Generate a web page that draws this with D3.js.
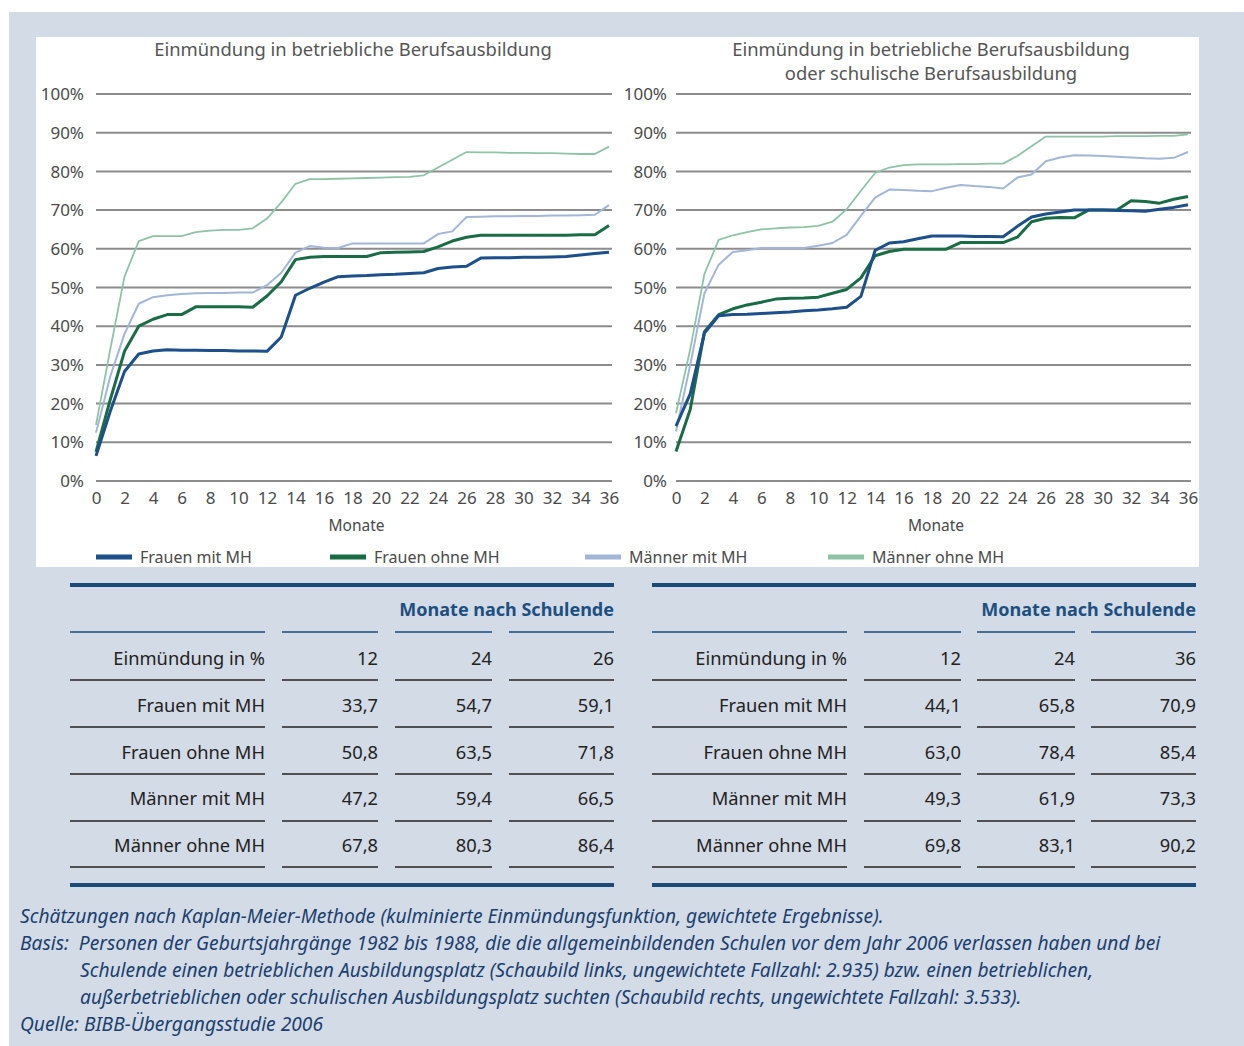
<!DOCTYPE html>
<html><head><meta charset="utf-8">
<script src="https://cdn.jsdelivr.net/npm/d3@7"></script>
<style>
html,body{margin:0;padding:0;background:#fff;}
svg{display:block;}
</style></head>
<body>
<svg id="c" width="1244" height="1046"></svg>
<script>
// ---------- DATA ----------
const months = d3.range(0, 37);
const seriesNames = ["Frauen mit MH", "Frauen ohne MH", "Männer mit MH", "Männer ohne MH"];
const seriesColors = ["#1d4f8a", "#1a6c47", "#a3b6d7", "#8ec3a6"];
const seriesWidths = [3, 3, 2, 1.8];

// left panel: betriebliche Berufsausbildung
const leftFrauenMit = [6.5,18,28.3,32.8,33.6,33.9,33.8,33.8,33.7,33.7,33.6,33.6,33.5,37.2,48,49.8,51.4,52.8,53,53.1,53.3,53.4,53.6,53.8,54.9,55.3,55.5,57.6,57.7,57.7,57.8,57.8,57.9,58,58.4,58.8,59.1];
const leftFrauenOhne = [7.5,21,33.5,40,41.8,43,43,45,45,45,45,44.9,47.8,51.5,57.2,57.8,58,58,58,58,59,59.1,59.2,59.3,60.5,62,63,63.5,63.5,63.5,63.5,63.5,63.5,63.5,63.6,63.6,66];
const leftMaennerMit = [12.5,27,38,45.8,47.5,48,48.3,48.5,48.6,48.6,48.7,48.7,50.6,53.8,59,60.7,60.3,60.2,61.4,61.4,61.4,61.4,61.4,61.4,63.8,64.5,68.2,68.3,68.4,68.4,68.5,68.5,68.6,68.6,68.7,68.8,71.3];
const leftMaennerOhne = [14.5,34,52.8,62,63.3,63.3,63.3,64.3,64.7,64.9,64.9,65.3,67.8,72,76.8,78,78,78.1,78.2,78.3,78.4,78.5,78.6,79,81,83,85,84.9,84.9,84.8,84.8,84.7,84.7,84.6,84.5,84.5,86.4];

// right panel: betriebliche oder schulische Berufsausbildung
const rightFrauenMit = [14.2,22.5,38.2,42.7,43,43.1,43.3,43.5,43.7,44,44.2,44.5,44.9,47.7,59.6,61.5,61.8,62.6,63.3,63.3,63.3,63.2,63.2,63.1,65.8,68.2,69,69.5,70,70,70,69.9,69.8,69.7,70.2,70.7,71.4];
const rightFrauenOhne = [7.6,18.5,38.6,43,44.5,45.5,46.2,47,47.2,47.3,47.5,48.5,49.5,52.5,58.2,59.3,59.9,59.9,59.9,59.9,61.6,61.6,61.6,61.6,63,67,67.9,68.1,68,70,70,70,72.4,72.2,71.8,72.8,73.5];
const rightMaennerMit = [12.8,30,48.5,55.9,59.2,59.6,60.2,60.2,60.2,60.2,60.8,61.5,63.6,68.5,73.2,75.3,75.2,75,74.9,75.8,76.5,76.2,76,75.6,78.4,79.2,82.6,83.6,84.2,84.1,84,83.8,83.6,83.4,83.3,83.5,85];
const rightMaennerOhne = [17.5,34,53.5,62.3,63.5,64.3,65,65.3,65.5,65.6,65.9,67,70.2,75,79.6,81,81.6,81.8,81.8,81.8,81.9,81.9,82,82,84,86.5,89,89,89,89,89,89.1,89.1,89.1,89.2,89.2,89.6];

const yTicks = [0,10,20,30,40,50,60,70,80,90,100];
const xTicks = d3.range(0, 37, 2);
const leftTitle = ["Einmündung in betriebliche Berufsausbildung"];
const rightTitle = ["Einmündung in betriebliche Berufsausbildung", "oder schulische Berufsausbildung"];
const xAxisLabel = "Monate";

// table
const tableHeader = "Monate nach Schulende";
const tableRowHead = "Einmündung in %";
const leftTableMonths = ["12", "24", "26"];
const rightTableMonths = ["12", "24", "36"];
const leftTableValues = [["33,7","54,7","59,1"],["50,8","63,5","71,8"],["47,2","59,4","66,5"],["67,8","80,3","86,4"]];
const rightTableValues = [["44,1","65,8","70,9"],["63,0","78,4","85,4"],["49,3","61,9","73,3"],["69,8","83,1","90,2"]];

const footnotes = [
  {t:"Schätzungen nach Kaplan-Meier-Methode (kulminierte Einmündungsfunktion, gewichtete Ergebnisse).", indent:false},
  {t:"Basis:  Personen der Geburtsjahrgänge 1982 bis 1988, die die allgemeinbildenden Schulen vor dem Jahr 2006 verlassen haben und bei", indent:false},
  {t:"Schulende einen betrieblichen Ausbildungsplatz (Schaubild links, ungewichtete Fallzahl: 2.935) bzw. einen betrieblichen,", indent:true},
  {t:"außerbetrieblichen oder schulischen Ausbildungsplatz suchten (Schaubild rechts, ungewichtete Fallzahl: 3.533).", indent:true},
  {t:"Quelle: BIBB-Übergangsstudie 2006", indent:false}
];

// ---------- DRAW ----------
const svg = d3.select("#c");
const font = "'Noto Sans', 'Open Sans', sans-serif";
svg.append("rect").attr("x",9).attr("y",12).attr("width",1235).attr("height",1034).attr("fill","#d3dbe7");
svg.append("rect").attr("x",36).attr("y",37).attr("width",1163).attr("height",530).attr("fill","#fff");

const y = d3.scaleLinear().domain([0,100]).range([481,94]);

function panel(x0, x1, titleLines, titleX, labelX, data) {
  const x = d3.scaleLinear().domain([0,36]).range([x0, x1]);
  const g = svg.append("g");
  g.selectAll("line.grid").data(yTicks).join("line")
    .attr("x1", x(0)).attr("x2", x(36)+3)
    .attr("y1", d=>y(d)).attr("y2", d=>y(d))
    .attr("stroke", "#8c8c8c").attr("stroke-width", 2);
  g.selectAll("text.yl").data(yTicks).join("text")
    .attr("x", labelX).attr("y", d=>y(d)).attr("dy","0.36em")
    .attr("text-anchor","end").attr("font-family",font).attr("font-size",17)
    .attr("fill","#4a4a4a").text(d=>d+"%");
  const ax = d3.axisBottom(x).tickValues(xTicks).tickSize(0).tickPadding(11);
  const axg = g.append("g").attr("transform",`translate(0,${y(0)})`).call(ax);
  axg.select(".domain").remove();
  axg.selectAll("text").attr("font-family",font).attr("font-size",17).attr("fill","#4a4a4a");
  g.append("text").attr("x",(x(0)+x(36))/2+4).attr("y",525).attr("dy","0.36em")
    .attr("text-anchor","middle").attr("font-family",font).attr("font-size",15.5)
    .attr("fill","#4a4a4a").text(xAxisLabel);
  titleLines.forEach((t,i)=>{
    g.append("text").attr("x",titleX).attr("y",49+i*24).attr("dy","0.36em")
      .attr("text-anchor","middle").attr("font-family",font).attr("font-size",18.4)
      .attr("fill","#555").text(t);
  });
  const line = d3.line().x((d,i)=>x(months[i])).y(d=>y(d));
  [3,2,1,0].forEach(si=>{
    g.append("path").datum(data[si]).attr("d",line).attr("fill","none")
      .attr("stroke",seriesColors[si]).attr("stroke-width",seriesWidths[si])
      .attr("stroke-linejoin","round");
  });
}
panel(96, 609, leftTitle, 353, 84, [leftFrauenMit,leftFrauenOhne,leftMaennerMit,leftMaennerOhne]);
panel(676, 1188, rightTitle, 931, 667, [rightFrauenMit,rightFrauenOhne,rightMaennerMit,rightMaennerOhne]);

// legend
const legendX = [96, 330, 585, 828];
const lg = svg.append("g");
seriesNames.forEach((n,i)=>{
  lg.append("line").attr("x1",legendX[i]).attr("x2",legendX[i]+36).attr("y1",557).attr("y2",557)
    .attr("stroke",seriesColors[i]).attr("stroke-width",5);
  lg.append("text").attr("x",legendX[i]+44).attr("y",557).attr("dy","0.36em")
    .attr("font-family",font).attr("font-size",16)
    .attr("fill","#4a4a4a").text(n);
});

// tables
const rowY = [658, 705, 752, 798, 845];
const lineY = [632, 680, 727, 774, 821, 867];
function table(cols, months, values) {
  const g = svg.append("g");
  const left = cols[0][0], right = cols[cols.length-1][1];
  g.append("rect").attr("x",left).attr("y",583).attr("width",right-left).attr("height",4).attr("fill","#1b4a78");
  g.append("rect").attr("x",left).attr("y",883).attr("width",right-left).attr("height",4).attr("fill","#1b4a78");
  g.append("text").attr("x",right).attr("y",610).attr("dy","0.36em").attr("text-anchor","end")
    .attr("font-family",font).attr("font-size",18).attr("font-weight","bold").attr("fill","#1d4f80").text(tableHeader);
  lineY.forEach(ly=>{
    cols.forEach(c=>{
      g.append("line").attr("x1",c[0]).attr("x2",c[1]).attr("y1",ly).attr("y2",ly)
        .attr("stroke", ly===632 ? "#1b4a78" : "#222").attr("stroke-width",1.5);
    });
  });
  const rows = [[tableRowHead].concat(months)].concat(seriesNames.map((n,i)=>[n].concat(values[i])));
  rows.forEach((r,ri)=>{
    r.forEach((cell,ci)=>{
      g.append("text").attr("x",cols[ci][1]).attr("y",rowY[ri]).attr("dy","0.36em")
        .attr("text-anchor","end").attr("font-family",font).attr("font-size",18.3)
        .attr("fill","#222").text(cell);
    });
  });
}
table([[70,265],[282,378],[395,492],[509,614]], leftTableMonths, leftTableValues);
table([[652,847],[864,961],[977,1075],[1091,1196]], rightTableMonths, rightTableValues);

// footnotes
footnotes.forEach((f,i)=>{
  svg.append("text").attr("x", f.indent ? 80 : 20).attr("y", 916 + i*27).attr("dy","0.36em")
    .attr("font-family",font).attr("font-style","italic").attr("font-size",19.2)
    .attr("fill","#1c3f6e").attr("xml:space","preserve").style("white-space","pre").text(f.t);
});
</script>
</body></html>
